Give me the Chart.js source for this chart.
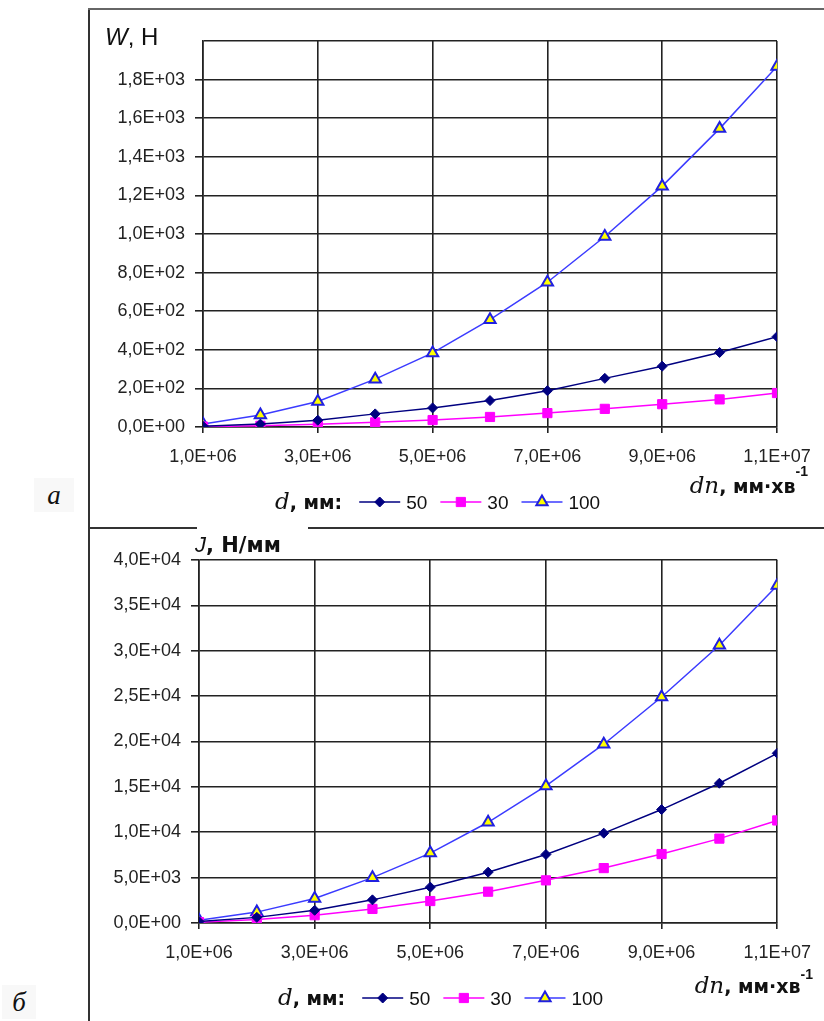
<!DOCTYPE html>
<html lang="uk">
<head>
  <meta charset="UTF-8" />
  <title>W і J від dn</title>
  <script src="https://cdn.jsdelivr.net/npm/chart.js"></script>
  <style>
    body   { margin:0; background:#fff; }
    .page  { position:relative; width:824px; height:1021px; overflow:hidden; }
    .line  { position:absolute; background:#333; }
    canvas { position:absolute; }
    .tag   { position:absolute; font-family:"Liberation Serif",serif; font-style:italic;
             font-size:27px; line-height:34px; color:#111; background:#f8f8f8; text-align:center; }
  </style>
</head>
<body>
<div class="page">
  <!-- frame lines -->
  <div class="line" style="left:88px;top:8px;width:2px;height:1013px"></div>
  <div class="line" style="left:88px;top:8px;width:736px;height:2px;background:#666"></div>
  <div class="line" style="left:88px;top:527px;width:109px;height:2px"></div>
  <div class="line" style="left:308px;top:527px;width:516px;height:2px"></div>

  <canvas id="chartW" width="734" height="516" style="left:90px;top:10px"></canvas>
  <canvas id="chartJ" width="734" height="492" style="left:90px;top:529px"></canvas>

  <div class="tag" style="left:34px;top:478px;width:40px;height:34px">а</div>
  <div class="tag" style="left:2px;top:985px;width:34px;height:34px">б</div>
</div>

<script>
  /* ---- data ---- */
  const dn   = [1e6, 2e6, 3e6, 4e6, 5e6, 6e6, 7e6, 8e6, 9e6, 1e7, 1.1e7];
  const seriesNames = ['50', '30', '100'];           // d, мм

  const W50  = [4, 15, 35, 68, 99, 137, 188, 252, 315, 386, 468];
  const W30  = [2, 6, 14, 24, 36, 52, 72, 94, 118, 143, 176];
  const W100 = [15, 62, 132, 248, 384, 556, 750, 987, 1248, 1546, 1868];

  const J50  = [155, 620, 1400, 2550, 3950, 5600, 7550, 9900, 12500, 15400, 18700];
  const J30  = [95, 380, 860, 1550, 2420, 3450, 4700, 6050, 7600, 9300, 11300];
  const J100 = [310, 1200, 2700, 5000, 7700, 11100, 15100, 19700, 24900, 30600, 37200];

  const xRange = [1e6, 1.1e7, 2e6];       // min, max, step
  const wRange = [0, 2000, 200];
  const jRange = [0, 40000, 5000];

  /* ---- look ---- */
  const SANS  = '"Liberation Sans", Arial, sans-serif';
  const WIDE  = '"DejaVu Sans", Verdana, sans-serif';
  const SERIF = '"DejaVu Serif", serif';
  const INK   = '#222';

  const looks = [
    { line:'#000080', fill:'#000080', edge:'#000080', style:'rectRot',  r:5,   bw:1 },
    { line:'#ff00ff', fill:'#ff00ff', edge:'#ff00ff', style:'rect',     r:6.5, bw:1 },
    { line:'#3b3bff', fill:'#ffff00', edge:'#2020e0', style:'triangle', r:6.5, bw:2 }
  ];

  // 1.8e3 -> "1,8E+03"
  function sci(v){
    if (v === 0) return '0,0E+00';
    const e = Math.floor(Math.log10(v) + 1e-9);
    const m = v / Math.pow(10, e);
    return m.toFixed(1).replace('.', ',') + 'E+' + String(e).padStart(2, '0');
  }

  function runsWidth(ctx, runs){
    let w = 0;
    runs.forEach(r => { ctx.font = r.font; w += ctx.measureText(r.t).width; });
    return w;
  }
  function drawRuns(ctx, runs, x, y){
    runs.forEach(r => {
      ctx.font = r.font;
      ctx.fillText(r.t, x, y + (r.dy || 0));
      x += ctx.measureText(r.t).width;
    });
    return x;
  }

  /* titles + legend row, drawn after the chart */
  const panelText = {
    id: 'panelText',
    afterDraw(chart, args, o){
      const ctx = chart.ctx;
      ctx.save();
      ctx.fillStyle = '#111';
      ctx.textBaseline = 'alphabetic';

      drawRuns(ctx, o.title, o.titleX, o.titleY);
      drawRuns(ctx, o.xTitle, o.xTitleRight - runsWidth(ctx, o.xTitle), o.xTitleY);

      // legend:  d, мм:  —◆— 50  —■— 30  —▲— 100
      let x = drawRuns(ctx, o.lead, o.legendX, o.legendY + 7) + 17;
      const cy = o.legendY;
      chart.data.datasets.forEach((ds, i) => {
        const p = chart.getDatasetMeta(i).data[0].options;
        ctx.strokeStyle = ds.borderColor;
        ctx.lineWidth = 1.5;
        ctx.beginPath(); ctx.moveTo(x, cy); ctx.lineTo(x + 41, cy); ctx.stroke();
        ctx.fillStyle = p.backgroundColor;
        ctx.strokeStyle = p.borderColor;
        ctx.lineWidth = p.borderWidth;
        Chart.helpers.drawPoint(ctx, p, x + 20.5, cy);
        ctx.fillStyle = '#111';
        ctx.font = '19px ' + SANS;
        ctx.fillText(ds.label, x + 47, cy + 7);
        x += 47 + ctx.measureText(ds.label).width + 13;
      });
      ctx.restore();
    }
  };

  function makeChart(id, series, yr, box, text, hideTop){
    const cnv = document.getElementById(id);
    const datasets = series.map((vals, i) => ({
      label: seriesNames[i],
      data: dn.map((x, k) => ({ x, y: vals[k] })),
      borderColor: looks[i].line,
      borderWidth: 1.5,
      pointStyle: looks[i].style,
      pointRadius: looks[i].r,
      pointBackgroundColor: looks[i].fill,
      pointBorderColor: looks[i].edge,
      pointBorderWidth: looks[i].bw,
      tension: 0
    }));
    const grid = (hideMax) => ({
      color: INK, lineWidth: 1.6, drawTicks: true,
      tickColor: c => (hideMax && c.tick && c.tick.value === yr[1]) ? 'rgba(0,0,0,0)' : INK
    });
    return new Chart(cnv, {
      type: 'line',
      data: { datasets },
      options: {
        responsive: false,
        animation: false,
        layout: { padding: { top: box.top, right: cnv.width - box.right, left: 0, bottom: 0 } },
        plugins: { legend: { display: false }, tooltip: { enabled: false }, panelText: text },
        scales: {
          x: {
            type: 'linear', min: xRange[0], max: xRange[1],
            ticks: { stepSize: xRange[2], callback: sci, color: INK, padding: 13,
                     font: { family: SANS, size: 18 }, maxRotation: 0, autoSkip: false },
            grid: Object.assign(grid(false), { tickLength: 6 }),
            border: { color: INK, width: 1.6 },
            afterFit(s){ s.height = cnv.height - box.bottom; }
          },
          y: {
            min: yr[0], max: yr[1],
            ticks: { stepSize: yr[2], callback: v => (hideTop && v === yr[1]) ? '' : sci(v), color: INK,
                     padding: 10, font: { family: SANS, size: 18 } },
            grid: Object.assign(grid(hideTop), { tickLength: 8 }),
            border: { color: INK, width: 1.6 },
            afterFit(s){ s.width = box.left; }
          }
        }
      },
      plugins: [panelText]
    });
  }

  const lead = [
    { t: 'd', font: 'italic 23px ' + SERIF },
    { t: ', мм:', font: 'bold 19px ' + WIDE }
  ];
  const xTitleRuns = (dy) => [
    { t: 'dn', font: 'italic 23px ' + SERIF },
    { t: ', мм·хв', font: 'bold 19px ' + WIDE },
    { t: '-1', font: 'bold 14px ' + SANS, dy }
  ];

  makeChart('chartW', [W50, W30, W100], wRange,
    { left: 113, right: 687, top: 31, bottom: 417 },
    {
      title: [ { t: 'W', font: 'italic 24px ' + SANS }, { t: ', Н', font: '24px ' + SANS } ],
      titleX: 15, titleY: 35,
      xTitle: xTitleRuns(-17),
      xTitleRight: 718, xTitleY: 483,
      lead, legendX: 185, legendY: 492
    }, true);

  makeChart('chartJ', [J50, J30, J100], jRange,
    { left: 109, right: 688, top: 31, bottom: 394 },
    {
      title: [ { t: 'J', font: 'italic 22px ' + SANS }, { t: ', Н/мм', font: 'bold 21px ' + WIDE } ],
      titleX: 105, titleY: 23,
      xTitle: xTitleRuns(-14),
      xTitleRight: 723, xTitleY: 464,
      lead, legendX: 188, legendY: 469
    }, false);
</script>
</body>
</html>
